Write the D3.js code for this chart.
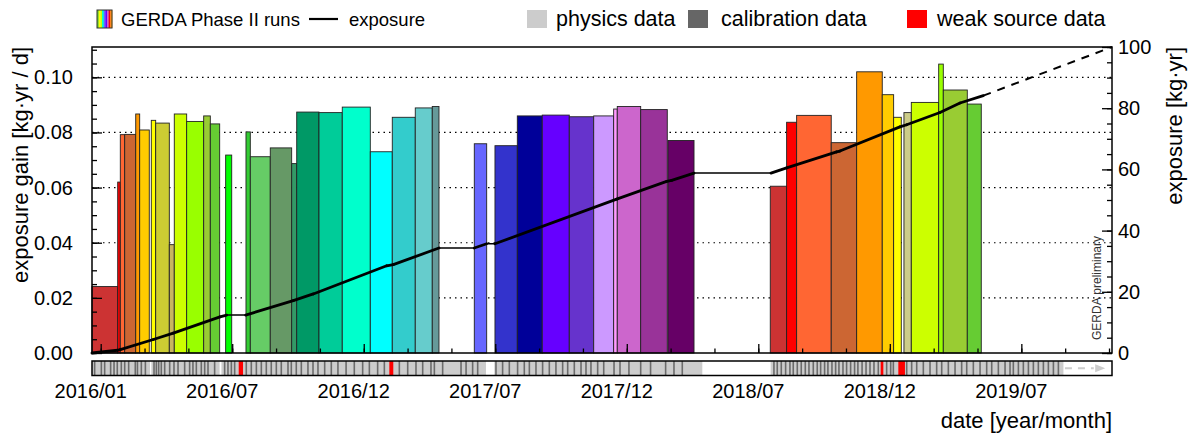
<!DOCTYPE html>
<html><head><meta charset="utf-8">
<script src="https://cdn.jsdelivr.net/npm/d3@7"></script>
<style>
body{margin:0;background:#fff}
svg{display:block}
text{font-family:"Liberation Sans",Arial,Helvetica,sans-serif;fill:#000}
</style>
</head><body>
<svg id="chart" width="1190" height="434"></svg>
<script>
// ---------- data (days counted from 2016-01-01) ----------
const runStartDay = [-12.1,23.6,27.2,33.3,48.6,54.1,70.2,76.3,95.2,102.1,119.3,142.9,152.1,173.4,201.6,207.6,235.3,265,272,302.9,335.2,374.1,404.6,436.5,460.1,518.4,547.1,578.1,612.7,650.2,684.1,711.8,716.8,749.3,787.2,929.1,951.8,965.7,1013.7,1049,1084.5,1100.3,1114.6,1124.8,1162.8,1169.2,1202.5];
const runEndDay   = [23.6,27.2,33.3,48.6,54.1,67.4,76.3,95.2,102.1,119.3,142.9,152.1,165.1,181.8,207.6,235.3,265,272,302.9,335.2,374.1,404.6,436.5,460.1,469.4,535.6,578.1,612.7,650.2,684.1,711.8,716.8,749.3,786.2,823.3,951.8,965.7,1013.7,1049,1084.5,1100.3,1110.9,1124.8,1162.8,1169.2,1202.5,1221.9];
const runGain     = [0.0241,0.062,0.0792,0.0793,0.0867,0.0809,0.0844,0.0834,0.0393,0.0867,0.084,0.086,0.0831,0.0718,0.0802,0.0712,0.0744,0.0687,0.0874,0.0872,0.0892,0.073,0.0855,0.0889,0.0894,0.0759,0.0752,0.086,0.0863,0.0857,0.086,0.0885,0.0894,0.0883,0.0771,0.0605,0.0837,0.0862,0.0763,0.102,0.0937,0.0855,0.0872,0.0909,0.1048,0.0954,0.0903];
const runColors   = ["#cc3333","#ff0000","#ff6633","#cc6633","#ff9900","#ffcc00","#ffff00","#cccc33","#c8b560","#ccff00","#99ff00","#99cc33","#66cc33","#00ff00","#33cc33","#66cc66","#669966","#339966","#009966","#00cc99","#00ffcc","#00ffff","#33cccc","#66cccc","#669999","#6666ff","#3333cc","#000099","#6600ff","#6633cc","#cc99ff","#ff99ff","#cc66cc","#993399","#660066","#cc3333","#ff0000","#ff6633","#cc6633","#ff9900","#ffcc00","#ffff00","#cccc88","#ccff00","#99ff00","#99cc33","#66cc33"];

const exposureDay = [-12.1,23.6,27.2,73,100.7,165.5,174.8,201.2,267.2,295,396.8,406,469.4,518.4,535.6,547.1,716,785.4,792.3,823.3,930.1,951.8,1021.2,1025.8,1109,1118.4,1164.6,1192.4,1224.7];
const exposureVal = [0,0.9,1.1,4.4,6.5,11.8,12.4,12.4,17.1,19.3,28.5,28.9,34.3,34.3,35.7,35.7,50.3,56.1,56.4,58.8,58.8,60.5,65.7,66,73.9,74.6,78.6,81.7,84.1];
const projectionDay = [1224.7,1403.3];
const projectionVal = [84.1,100];

const physicsSpans = [[-12.1,68.4],[70.3,165],[167.5,534.6],[546.2,834.8],[929.6,1335.9]];
const weakSourceSpans = [[191.5,197.5],[400.5,406],[1082.3,1086],[1106.8,1116]];
const calibrationDay = [-8.4,0.9,5.5,13.8,18.5,23,28.6,33.3,38.8,48,51,56.4,62,74,77.2,80.4,84.1,88.8,95.7,101.7,107.3,116.5,123.4,128,132.7,139.6,144.3,148.9,158.1,172,176.6,181.3,185.9,202,209,216,222.9,229.8,236.7,243.7,250.6,259.9,264.5,271.4,278.4,287.6,294.6,301.5,310.8,320,329.2,340.5,351.9,363.5,372.8,384.3,393.6,414.4,426,437.5,446.8,458.3,463,474.5,500,507,516.1,523.1,548.5,557.7,567,578.5,587.8,594.8,604,613.2,622.5,631.7,641,648,657.2,666.5,673.4,680.3,689.6,698,712.3,720.6,733,749.3,763,783.9,795.5,807,934.2,938.8,944.4,950.4,956.4,961,966.6,972.1,977.7,982.8,988.8,994.3,999,1004.5,1009.1,1014.7,1019.8,1024.4,1030,1035,1040.6,1046.1,1050.7,1056.5,1062,1067.5,1073,1079,1090.6,1096.2,1099.9,1118.4,1125.3,1132.3,1141.5,1150.8,1160,1167,1176.2,1185.5,1194.7,1201.7,1210.9,1220.2,1229.4,1236.4,1245.6,1254.9,1261.8,1266.4,1273.4,1280.3,1287.3,1294.2,1301.1,1308.1,1315,1322,1328.9];

const xTickDays = [0,182.5,365,547.5,730,912.5,1095,1277.5];
const xDomainDays = [-12.07,1403.3];
const leftTicks = [0,0.02,0.04,0.06,0.08,0.10];
const rightTicks = [0,20,40,60,80,100];
const legendRainbow = ["#66cc33","#ffff00","#ccff00","#00ffcc","#6666ff","#6600ff","#cc66cc","#ff0000","#ff9900"];
const legendLabels = ["GERDA Phase II runs","exposure","physics data","calibration data","weak source data"];

// ---------- layout ----------
const L = 92, R = 1112, T = 47, B = 353;
const stripTop = 361, stripH = 14.5;
const base = Date.UTC(2016,0,1);
const toDate = d => new Date(base + d*86400000);

const svg = d3.select("#chart");
const x = d3.scaleUtc().domain(xDomainDays.map(toDate)).range([L,R]);
const yL = d3.scaleLinear().domain([0,0.111]).range([B,T]);
const yR = d3.scaleLinear().domain([0,100]).range([B,T]);
const X = d => x(toDate(d));

// grid
svg.append("g").selectAll("line").data(leftTicks.slice(1)).join("line")
  .attr("x1",L).attr("x2",R).attr("y1",d=>yL(d)).attr("y2",d=>yL(d))
  .attr("stroke","#000").attr("stroke-width",1.2).attr("stroke-dasharray","1.5,4");

// bars
svg.append("g").selectAll("rect").data(runGain).join("rect")
  .attr("x",(d,i)=>X(runStartDay[i]))
  .attr("width",(d,i)=>X(runEndDay[i])-X(runStartDay[i]))
  .attr("y",d=>yL(d)).attr("height",d=>B-yL(d))
  .attr("fill",(d,i)=>runColors[i])
  .attr("stroke","#222").attr("stroke-width",0.9);

// exposure line segments
const segs = d3.range(exposureDay.length-1);
svg.append("g").selectAll("line").data(segs).join("line")
  .attr("x1",i=>X(exposureDay[i])).attr("y1",i=>yR(exposureVal[i]))
  .attr("x2",i=>X(exposureDay[i+1])).attr("y2",i=>yR(exposureVal[i+1]))
  .attr("stroke","#000").attr("stroke-linecap","round")
  .attr("stroke-width",i=> exposureVal[i+1]-exposureVal[i] > 0.05 ? 2.8 : 1.5);
svg.append("line")
  .attr("x1",X(projectionDay[0])).attr("y1",yR(projectionVal[0]))
  .attr("x2",X(projectionDay[1])).attr("y2",yR(projectionVal[1]))
  .attr("stroke","#000").attr("stroke-width",2).attr("stroke-dasharray","8,7");

// frame
svg.append("rect").attr("x",L).attr("y",T).attr("width",R-L).attr("height",B-T)
  .attr("fill","none").attr("stroke","#000").attr("stroke-width",1.5);

// left axis
svg.append("g").attr("transform",`translate(${L},0)`)
  .call(d3.axisLeft(yL).tickValues(leftTicks).tickSize(-10).tickPadding(19).tickFormat(d3.format(".2f")));
svg.append("g").attr("transform",`translate(${L},0)`)
  .call(d3.axisLeft(yL).tickValues(d3.range(0,0.1101,0.005)).tickSize(-5).tickFormat(""));
// right axis
svg.append("g").attr("transform",`translate(${R},0)`)
  .call(d3.axisRight(yR).tickValues(rightTicks).tickSize(-10).tickPadding(6).tickFormat(d3.format("d")));
svg.append("g").attr("transform",`translate(${R},0)`)
  .call(d3.axisRight(yR).tickValues(d3.range(0,101,5)).tickSize(-5).tickFormat(""));
// bottom ticks
svg.append("g").attr("transform",`translate(0,${B})`)
  .call(d3.axisBottom(x).tickValues(xTickDays.map(toDate)).tickSize(-9).tickFormat(""));
svg.append("g").attr("transform",`translate(0,${B})`)
  .call(d3.axisBottom(x).tickValues(d3.range(0,1403,60.833).map(toDate)).tickSize(-4.5).tickFormat(""));
svg.selectAll(".domain").remove();
svg.selectAll(".tick line").attr("stroke","#000").attr("stroke-width",1.3);
svg.selectAll(".tick text").attr("font-size",20).attr("font-family","Liberation Sans, Arial, sans-serif").attr("fill","#000");

// x tick labels (below strip)
const fmt = d3.utcFormat("%Y/%m");
svg.append("g").selectAll("text").data(xTickDays).join("text")
  .attr("x",d=>X(d)-10).attr("y",398).attr("text-anchor","middle")
  .attr("font-size",20).text(d=>fmt(toDate(d)));

// strip
const strip = svg.append("g");
strip.append("rect").attr("x",L).attr("y",stripTop).attr("width",R-L).attr("height",stripH).attr("fill","#fff");
strip.selectAll("rect.p").data(physicsSpans).join("rect").attr("class","p")
  .attr("x",d=>X(d[0])).attr("width",d=>X(d[1])-X(d[0]))
  .attr("y",stripTop).attr("height",stripH).attr("fill","#cccccc");
strip.selectAll("line.c").data(calibrationDay).join("line").attr("class","c")
  .attr("x1",d=>X(d)).attr("x2",d=>X(d)).attr("y1",stripTop).attr("y2",stripTop+stripH)
  .attr("stroke","#6b6b6b").attr("stroke-width",1.6);
strip.selectAll("rect.w").data(weakSourceSpans).join("rect").attr("class","w")
  .attr("x",d=>X(d[0])).attr("width",d=>X(d[1])-X(d[0]))
  .attr("y",stripTop).attr("height",stripH).attr("fill","#ff0000");
const arrowY = stripTop+stripH/2;
strip.append("line").attr("x1",X(1338)).attr("x2",X(1378)).attr("y1",arrowY).attr("y2",arrowY)
  .attr("stroke","#cccccc").attr("stroke-width",2).attr("stroke-dasharray","7,6");
strip.append("path")
  .attr("d",`M${X(1380)},${arrowY-4}L${X(1394)},${arrowY}L${X(1380)},${arrowY+4}Z`)
  .attr("fill","#cccccc");
strip.append("rect").attr("x",L).attr("y",stripTop).attr("width",R-L).attr("height",stripH)
  .attr("fill","none").attr("stroke","#000").attr("stroke-width",1.5);

// titles
svg.append("text").attr("transform",`translate(28,${T}) rotate(-90)`).attr("text-anchor","end")
  .attr("font-size",22).text("exposure gain [kg·yr / d]");
svg.append("text").attr("transform",`translate(1182,${T}) rotate(-90)`).attr("text-anchor","end")
  .attr("font-size",22).text("exposure [kg·yr]");
svg.append("text").attr("x",R).attr("y",428).attr("text-anchor","end")
  .attr("font-size",22).text("date [year/month]");
svg.append("text").attr("transform",`translate(1101,340) rotate(-90)`).attr("text-anchor","start")
  .attr("font-size",12).style("fill","#333").text("GERDA preliminary");

// legend
const lg = svg.append("g");
const rw = 15/legendRainbow.length;
lg.selectAll("rect.rb").data(legendRainbow).join("rect").attr("class","rb")
  .attr("x",(d,i)=>97+i*rw).attr("y",10).attr("width",rw+0.3).attr("height",18).attr("fill",d=>d);
lg.append("rect").attr("x",97).attr("y",10).attr("width",15).attr("height",18).attr("fill","none").attr("stroke","#333").attr("stroke-width",1);
lg.append("text").attr("x",121).attr("y",26).attr("font-size",18.5).text(legendLabels[0]);
lg.append("line").attr("x1",309).attr("x2",338).attr("y1",19).attr("y2",19).attr("stroke","#000").attr("stroke-width",2.2);
lg.append("text").attr("x",349).attr("y",26).attr("font-size",18.5).text(legendLabels[1]);
lg.append("rect").attr("x",527).attr("y",10).attr("width",20).attr("height",18).attr("fill","#cccccc");
lg.append("text").attr("x",556).attr("y",26).attr("font-size",21.5).text(legendLabels[2]);
lg.append("rect").attr("x",688).attr("y",10).attr("width",20).attr("height",18).attr("fill","#666666");
lg.append("text").attr("x",721).attr("y",26).attr("font-size",21.5).text(legendLabels[3]);
lg.append("rect").attr("x",907).attr("y",10).attr("width",20).attr("height",18).attr("fill","#ff0000");
lg.append("text").attr("x",937).attr("y",26).attr("font-size",21.5).text(legendLabels[4]);
</script>
</body></html>
